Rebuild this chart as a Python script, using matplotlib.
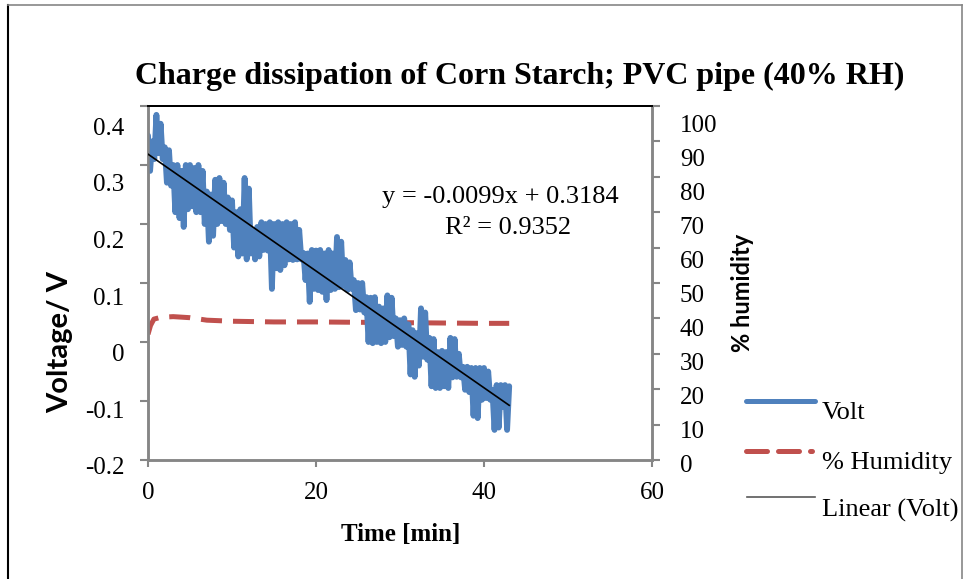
import numpy as np
import matplotlib
matplotlib.use("Agg")
from matplotlib import pyplot as plt
from matplotlib.lines import Line2D
from matplotlib.transforms import ScaledTranslation

# Voltage readings, one every 0.25 min
volt = [
    0.35, 0.29, 0.34, 0.31, 0.385, 0.32, 0.37, 0.31, 0.33, 0.27,
    0.325, 0.265, 0.30, 0.22, 0.30, 0.21, 0.29, 0.195, 0.30, 0.225,
    0.30, 0.23, 0.295, 0.22, 0.30, 0.22, 0.29, 0.20, 0.255, 0.17,
    0.25, 0.18, 0.275, 0.20, 0.278, 0.205, 0.27, 0.20, 0.245, 0.19,
    0.24, 0.16, 0.22, 0.145, 0.225, 0.15, 0.278, 0.14, 0.26, 0.15,
    0.19, 0.14, 0.195, 0.145, 0.203, 0.156, 0.20, 0.155, 0.203, 0.09,
    0.20, 0.125, 0.203, 0.122, 0.20, 0.13, 0.203, 0.14, 0.20, 0.139,
    0.203, 0.14, 0.19, 0.14, 0.151, 0.105, 0.15, 0.068, 0.156, 0.09,
    0.155, 0.088, 0.156, 0.085, 0.15, 0.071, 0.156, 0.088, 0.15, 0.09,
    0.178, 0.093, 0.17, 0.095, 0.139, 0.088, 0.135, 0.09, 0.105, 0.054,
    0.10, 0.055, 0.10, 0.05, 0.076, 0.0, 0.075, -0.002, 0.076, 0.0,
    0.06, -0.002, 0.057, 0.0, 0.079, 0.008, 0.075, 0.01, 0.04, -0.008,
    0.037, -0.005, 0.04, -0.008, 0.03, -0.055, 0.02, -0.059, 0.015, -0.04,
    0.057, -0.025, 0.05, -0.03, 0.007, -0.075, 0.005, -0.078, -0.017, -0.078,
    -0.015, -0.075, -0.017, -0.078, 0.007, -0.06, 0.005, -0.059, -0.02, -0.06,
    -0.042, -0.081, -0.042, -0.085, -0.044, -0.125, -0.044, -0.129, -0.044, -0.098,
    -0.044, -0.095, -0.05, -0.098, -0.081, -0.149, -0.073, -0.145, -0.073, -0.11,
    -0.073, -0.149, -0.075,
]
time_step = 0.25
time_min = np.arange(len(volt)) * time_step

# Relative humidity (%)
hum_time = [0, 0.3, 0.7, 1.5, 3, 5, 7, 10, 15, 20, 30, 40, 43]
humidity = [35.5, 38, 39.8, 40.3, 40.5, 40.2, 39.5, 39.2, 39.0, 39.0, 38.8, 38.6, 38.6]

# Linear trend shown on the chart
slope = -0.0099
intercept = 0.3184
r2 = 0.9352

volt_ticks = [-0.2, -0.1, 0, 0.1, 0.2, 0.3, 0.4]
volt_ticklabels = ['-0.2', '-0.1', '0', '0.1', '0.2', '0.3', '0.4']
hum_ticks = list(range(0, 101, 10))
time_ticks = [0, 20, 40, 60]

blue = '#4F81BD'
red = '#C0504D'
gray = '#868686'

serif = 'Liberation Serif'
sans = 'Lato'

fig = plt.figure(figsize=(9.67, 5.79), dpi=100)
ax = fig.add_axes([148 / 967, 1 - 460 / 579, 504 / 967, 354 / 579])
ax2 = ax.twinx()

ax.plot(time_min, volt, color=blue, lw=4.2, solid_joinstyle='round',
        solid_capstyle='round', zorder=2)
trend_x = np.array([time_min[0], time_min[-1]])
ax.plot(trend_x, slope * trend_x + intercept, color='black', lw=1.2, zorder=4)
ax2.plot(hum_time, humidity, color=red, lw=3.6, dashes=(4.2, 2.2), zorder=1)

ax.set_zorder(ax2.get_zorder() + 1)
ax.patch.set_visible(False)

ax.set_xlim(0, 60)
ax.set_ylim(-0.2, 0.4)
ax2.set_ylim(0, 100)
ax.set_xticks(time_ticks)
ax.set_yticks(volt_ticks)
ax.set_yticklabels(volt_ticklabels)
ax2.set_yticks(hum_ticks)

for a in (ax, ax2):
    for s in a.spines.values():
        s.set_color(gray)
        s.set_linewidth(1.8)
    a.spines['top'].set_color('black')
    a.spines['top'].set_linewidth(1.4)

ax.tick_params(axis='y', direction='out', length=6, width=1.5, color=gray,
               labelsize=18, pad=11)
ax.tick_params(axis='x', direction='out', length=5, width=1.5, color=gray,
               labelsize=18, pad=11)
ax2.tick_params(axis='y', direction='out', length=6, width=1.5, color=gray,
                labelsize=18, pad=14)

for lab in ax.get_xticklabels() + ax.get_yticklabels() + ax2.get_yticklabels():
    lab.set_fontfamily(serif)

# labels in the original sit below their ticks, more so near the top
def shift_labels(labels, low_px, high_px):
    n = len(labels)
    for i, lab in enumerate(labels):
        px = low_px + (high_px - low_px) * i / (n - 1)
        off = ScaledTranslation(0, -px / 100, fig.dpi_scale_trans)
        lab.set_transform(lab.get_transform() + off)

shift_labels(ax.get_yticklabels(), 6, 20)
shift_labels(ax2.get_yticklabels(), 3, 17)

fig.text(520 / 967, 1 - 76 / 579, 'Charge dissipation of Corn Starch; PVC pipe (40% RH)',
         ha='center', va='center', fontsize=23, fontweight='bold', family=serif)
fig.text(401 / 967, 1 - 534 / 579, 'Time [min]', ha='center', va='center',
         fontsize=18, fontweight='bold', family=serif)
fig.text(60 / 967, 1 - 342 / 579, 'Voltage/ V', ha='center', va='center',
         rotation=90, fontsize=21, fontweight='bold', family=sans)
fig.text(743 / 967, 1 - 293 / 579, '% humidity', ha='center', va='center',
         rotation=90, fontsize=17, fontweight='bold', family=sans)

ax.text(0.70, 0.742, 'y = -0.0099x + 0.3184', transform=ax.transAxes,
        ha='center', va='center', fontsize=19, family=serif)
ax.text(0.715, 0.655, f'R² = {r2}', transform=ax.transAxes,
        ha='center', va='center', fontsize=19, family=serif)

# legend, drawn in Excel's layout (text set below its key)
def fx(px):
    return px / 967

def fy(py):
    return 1 - py / 579

fig.add_artist(Line2D([fx(746), fx(815)], [fy(401), fy(401)], color=blue, lw=3.6,
                      solid_capstyle='round'))
fig.add_artist(Line2D([fx(746), fx(812)], [fy(451), fy(451)], color=red, lw=3.6,
                      dashes=(4.2, 2.2), dash_capstyle='round'))
fig.add_artist(Line2D([fx(747), fx(815)], [fy(497), fy(497)], color='#595959', lw=1.2))
fig.text(fx(822), fy(413), 'Volt', ha='left', va='center', fontsize=19, family=serif)
fig.text(fx(822), fy(463), '% Humidity', ha='left', va='center', fontsize=19, family=serif)
fig.text(fx(822), fy(510), 'Linear (Volt)', ha='left', va='center', fontsize=19, family=serif)

# chart frame
fig.add_artist(Line2D([fx(8), fx(8)], [fy(5), 0], color='black', lw=1.5))
fig.add_artist(Line2D([fx(8), fx(962)], [fy(5), fy(5)], color=gray, lw=1.2))
fig.add_artist(Line2D([fx(962), fx(962)], [fy(5), 0], color=gray, lw=1.2))

fig.savefig('out.png', dpi=100)
